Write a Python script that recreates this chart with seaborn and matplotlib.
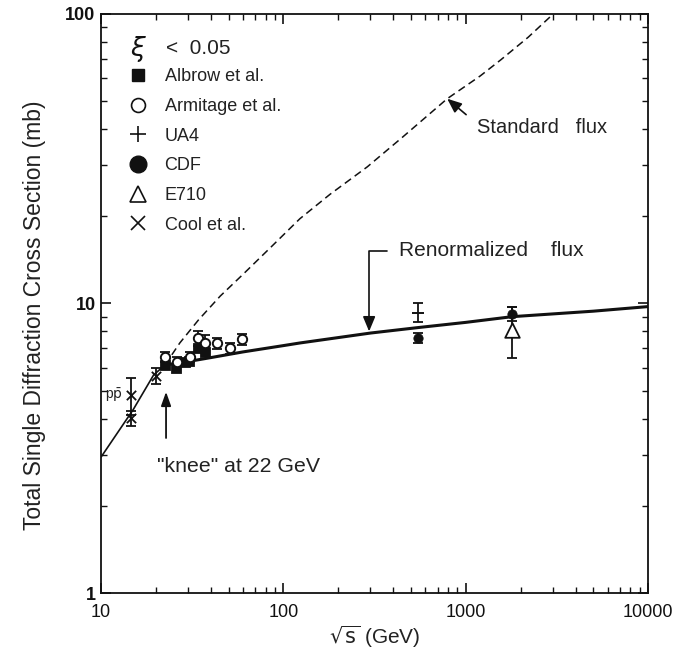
import numpy as np
import pandas as pd
import matplotlib
matplotlib.use("Agg")
import matplotlib.pyplot as plt
from matplotlib.lines import Line2D
import seaborn as sns

# ---- data ----
renorm_x = [10, 15, 19.4, 22.4, 30, 40, 60, 100, 123, 300, 546, 1000, 1800, 5000, 10000]
renorm_y = [2.95, 4.3, 5.66, 6.13, 6.3, 6.5, 6.8, 7.15, 7.3, 7.9, 8.25, 8.6, 9.0, 9.4, 9.75]
std_x = [22.4, 27, 34.2, 45, 60, 85, 123, 180, 288, 450, 791, 1200, 1559, 2200, 2867, 3000]
std_y = [6.13, 7.3, 8.77, 10.6, 12.6, 15.6, 19.6, 23.8, 29.6, 37.5, 50.9, 61.0, 69.4, 83.0, 96.9, 100]

albrow_x = [22.4, 25.8, 28.9, 30.5, 33.9, 37.2]
albrow_y = [6.13, 5.97, 6.3, 6.35, 7.0, 6.78]
armitage_x = [22.4, 26.0, 30.8, 33.9, 37.2, 43.1, 51.0, 59.6]
armitage_y = [6.55, 6.3, 6.52, 7.58, 7.32, 7.28, 7.0, 7.52]
armitage_err = [0.25, 0.25, 0.25, 0.45, 0.45, 0.3, 0.3, 0.35]
ua4_x = [546]
ua4_y = [9.3]
ua4_err = [0.7]
cdf_x = [546, 1800]
cdf_y = [7.6, 9.2]
cdf_err = [0.3, 0.5]
e710_x = [1800]
e710_y = [8.1]
e710_err = [1.6]
cool_x = [14.5, 14.5, 20.0]
cool_y = [4.83, 4.01, 5.62]
cool_err = [0.7, 0.25, 0.35]

legend_labels = ["Albrow et al.", "Armitage et al.", "UA4", "CDF", "E710", "Cool et al."]
x_ticks = [10, 100, 1000, 10000]
y_ticks = [1, 10, 100]

# ---- style ----
sns.set_theme(style="ticks")
plt.rcParams["font.family"] = ["Liberation Sans", "DejaVu Sans"]
plt.rcParams["axes.linewidth"] = 1.3

fig = plt.figure(figsize=(6.88, 6.56), dpi=100)
ax = fig.add_axes([0.147, 0.096, 0.795, 0.883])

k = "#111111"
tc = "#222222"
n_low = 4
sns.lineplot(x=renorm_x[:n_low], y=renorm_y[:n_low], ax=ax, color=k, lw=1.2, sort=False)
sns.lineplot(x=renorm_x[n_low - 1:], y=renorm_y[n_low - 1:], ax=ax, color=k, lw=2.2, sort=False)
sns.lineplot(x=std_x, y=std_y, ax=ax, color=k, lw=1.1, sort=False)
ax.lines[-1].set_dashes([5, 3])

eb = dict(ecolor=k, elinewidth=1.3, capsize=3.5, capthick=1.3, linestyle="none")
ax.errorbar(armitage_x, armitage_y, yerr=armitage_err, fmt="none", **eb)
ax.errorbar(ua4_x, ua4_y, yerr=ua4_err, fmt="none", **eb)
ax.errorbar(cdf_x, cdf_y, yerr=cdf_err, fmt="none", **eb)
ax.errorbar(e710_x, e710_y, yerr=e710_err, fmt="none", **eb)
ax.errorbar(cool_x, cool_y, yerr=cool_err, fmt="none", **eb)

sns.scatterplot(x=albrow_x, y=albrow_y, ax=ax, marker="s", s=55, color=k, edgecolor=k, zorder=5)
sns.scatterplot(x=armitage_x, y=armitage_y, ax=ax, marker="o", s=45, facecolor="white",
                edgecolor=k, linewidth=1.4, zorder=6)
sns.scatterplot(x=ua4_x, y=ua4_y, ax=ax, marker="_", s=80, color=k, linewidth=1.4, zorder=5)
sns.scatterplot(x=cdf_x, y=cdf_y, ax=ax, marker="o", s=45, color=k, edgecolor=k, zorder=5)
sns.scatterplot(x=e710_x, y=e710_y, ax=ax, marker="^", s=110, facecolor="white",
                edgecolor=k, linewidth=1.3, zorder=6)
sns.scatterplot(x=cool_x, y=cool_y, ax=ax, marker="x", s=45, color=k, linewidth=1.3, zorder=5)

ax.set_xscale("log")
ax.set_yscale("log")
ax.set_xlim(10, 10000)
ax.set_ylim(1, 100)
ax.set_xticks(x_ticks)
ax.set_xticklabels([str(v) for v in x_ticks])
ax.set_yticks(y_ticks)
ax.set_yticklabels([str(v) for v in y_ticks], fontweight="bold")
ax.tick_params(which="both", direction="in", top=True, right=True, colors=k, labelsize=13)
ax.tick_params(which="major", length=7, width=1.2)
ax.tick_params(which="minor", length=4, width=1.0)
ax.tick_params(axis="x", pad=8)
ax.tick_params(axis="y", pad=4)
for sp in ax.spines.values():
    sp.set_color(k)

ax.set_xlabel(r"$\sqrt{\rm s}$ (GeV)", fontsize=15, color=tc, labelpad=2)
ax.set_ylabel("Total Single Diffraction Cross Section (mb)", fontsize=16.5, color=tc)
ax.yaxis.set_label_coords(-0.1, 0.48)

# legend
handles = [
    Line2D([], [], marker="s", ms=9, color=k, ls="none"),
    Line2D([], [], marker="o", ms=10, mfc="white", mec=k, mew=1.2, ls="none"),
    Line2D([], [], marker="+", ms=12, color=k, mew=1.2, ls="none"),
    Line2D([], [], marker="o", ms=12, color=k, ls="none"),
    Line2D([], [], marker="^", ms=11, mfc="white", mec=k, mew=1.2, ls="none"),
    Line2D([], [], marker="x", ms=10, color=k, mew=1.2, ls="none"),
]
leg = ax.legend(handles, legend_labels, loc="upper left", bbox_to_anchor=(0.035, 0.918),
                frameon=False, fontsize=13, labelspacing=0.7, handletextpad=0.85,
                handlelength=1.2, borderaxespad=0)
for t in leg.get_texts():
    t.set_color(tc)
ax.text(0.068, 0.94, r"$\xi$", transform=ax.transAxes, fontsize=19, va="center", ha="center", color=k)
ax.text(0.118, 0.94, "<  0.05", transform=ax.transAxes, fontsize=15, va="center", ha="left", color=tc)

# annotations
ax.annotate("Standard   flux", xy=(791, 50.9), xytext=(1150, 40.5), fontsize=14.5, color=tc,
            va="center", ha="left",
            arrowprops=dict(arrowstyle="-|>,head_length=0.6,head_width=0.25", color=k, lw=1.2,
                            shrinkA=7, shrinkB=0, relpos=(0.0, 0.7)))
ax.annotate("Renormalized    flux", xy=(295, 8.0), xytext=(430, 15.2), fontsize=15, color=tc,
            va="center", ha="left",
            arrowprops=dict(arrowstyle="-|>,head_length=0.6,head_width=0.25", color=k, lw=1.2,
                            connectionstyle="angle,angleA=0,angleB=90,rad=0",
                            shrinkA=6, shrinkB=0))
ax.annotate("", xy=(22.7, 4.95), xytext=(22.7, 3.43),
            arrowprops=dict(arrowstyle="-|>,head_length=0.7,head_width=0.25", color=k, lw=1.3,
                            shrinkA=0, shrinkB=0))
ax.text(20.3, 2.73, "\"knee\" at 22 GeV", fontsize=15.3, color=tc, va="center", ha="left")
ax.text(13.2, 4.83, r"p$\bar{\rm p}$", fontsize=10, color=tc, va="center", ha="right")

fig.savefig("out.png", dpi=100)
